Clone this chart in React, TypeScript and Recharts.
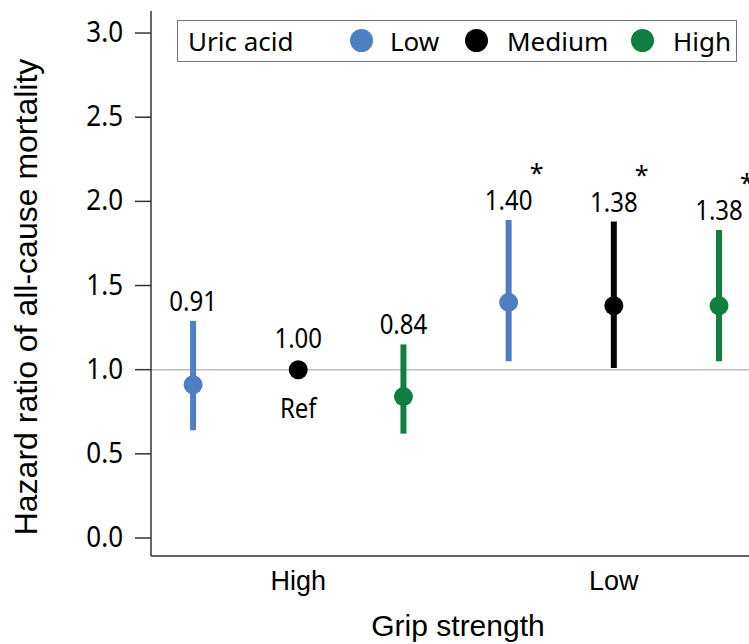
import { ComposedChart, ErrorBar, Legend, ReferenceLine, Scatter, XAxis, YAxis } from 'recharts';

const gripGroups = ['High', 'Low'];
const uricLevels = ['Low', 'Medium', 'High'];
const uricColors = ['#4e7fc3', '#000000', '#0e7f3e'];

// hazard ratios and 95% CI per uric acid level, one entry per grip group
const lowUricHr = [0.91, 1.4];
const lowUricLower = [0.64, 1.05];
const lowUricUpper = [1.29, 1.89];
const mediumUricHr = [1.0, 1.38];
const mediumUricLower = [1.0, 1.01];
const mediumUricUpper = [1.0, 1.88];
const highUricHr = [0.84, 1.38];
const highUricLower = [0.62, 1.05];
const highUricUpper = [1.15, 1.83];
const significant = [false, true];
const yTicks = [0, 0.5, 1, 1.5, 2, 2.5, 3];

const hrByLevel = [lowUricHr, mediumUricHr, highUricHr];
const lowerByLevel = [lowUricLower, mediumUricLower, highUricLower];
const upperByLevel = [lowUricUpper, mediumUricUpper, highUricUpper];

const FONT = '"Noto Sans", "Open Sans", sans-serif';
const ARIAL = '"Liberation Sans", Arial, sans-serif';

function pointsFor(level: number) {
  return gripGroups.map((_, g) => {
    const hr = hrByLevel[level][g];
    return {
      x: g * 3 + level + 1,
      y: hr,
      err: [hr - lowerByLevel[level][g], upperByLevel[level][g] - hr],
    };
  });
}

function labelsFor(level: number) {
  return gripGroups.map((_, g) => ({
    x: g * 3 + level + 1,
    y: upperByLevel[level][g],
    text: hrByLevel[level][g].toFixed(2),
    star: significant[g],
    isRef: level === 1 && g === 0,
  }));
}

const Dot = (color: string) => (props: any) => <circle cx={props.cx} cy={props.cy} r={9.5} fill={color} />;

// the source figure's labels are a little taller than wide
const TallText = ({ x, y, children, anchor = 'middle', size = 24, sy = 1.17 }: any) => (
  <text
    x={0}
    y={0}
    transform={`translate(${x},${y}) scale(1,${sy})`}
    textAnchor={anchor}
    fontFamily={FONT}
    fontSize={size}
    fill="#000"
  >
    {children}
  </text>
);

const ValueLabel = (props: any) => {
  const { cx, cy, payload } = props;
  const base = payload.isRef ? cy - 22 : cy - 10;
  return (
    <g>
      <TallText x={cx} y={base}>{payload.text}</TallText>
      {payload.star && (
        <text x={cx + 21} y={base - 28} textAnchor="start" fontFamily={FONT} fontSize={25} fill="#000">*</text>
      )}
      {payload.isRef && <TallText x={cx} y={cy + 48}>Ref</TallText>}
    </g>
  );
};

const YTick = (props: any) => {
  const { x, y, payload } = props;
  return (
    <TallText x={x} y={y + 9} anchor="end" size={26} sy={1.12}>
      {Number(payload.value).toFixed(1)}
    </TallText>
  );
};

const legendSlots = [
  { dot: 173, text: 213 },
  { dot: 288, text: 330 },
  { dot: 454, text: 496 },
];

const LegendBox = () => (
  <div
    style={{
      position: 'relative',
      boxSizing: 'border-box',
      width: 560,
      height: 42,
      border: '1px solid #777',
      background: '#fff',
      fontFamily: FONT,
      fontSize: 26,
      lineHeight: '40px',
      color: '#000',
      whiteSpace: 'nowrap',
    }}
  >
    <span style={{ position: 'absolute', left: 10, top: 0 }}>Uric acid</span>
    {uricLevels.map((name, i) => (
      <span key={name}>
        <span
          style={{
            position: 'absolute',
            left: legendSlots[i].dot - 1,
            top: 8,
            width: 23,
            height: 23,
            borderRadius: '50%',
            background: uricColors[i],
          }}
        />
        <span style={{ position: 'absolute', left: legendSlots[i].text - 1, top: 0 }}>{name}</span>
      </span>
    ))}
  </div>
);

export default function App() {
  return (
    <div style={{ position: 'absolute', left: 0, top: 0, width: 749, height: 644, overflow: 'hidden', background: '#fff' }}>
      <ComposedChart width={800} height={644} margin={{ top: 11, right: 0, bottom: 0, left: 0 }}>
        <XAxis
          xAxisId="frame"
          orientation="top"
          type="number"
          domain={[0.6, 6.77]}
          height={0}
          tick={false}
          tickLine={false}
          axisLine={{ stroke: '#333', strokeWidth: 1.5 }}
        />
        <XAxis
          dataKey="x"
          type="number"
          domain={[0.6, 6.77]}
          ticks={[2, 5]}
          tickFormatter={(v: number) => gripGroups[Math.round((v - 2) / 3)]}
          height={88}
          tickLine={false}
          tickSize={0}
          tickMargin={15}
          axisLine={{ stroke: '#333', strokeWidth: 1.5 }}
          tick={{ fill: '#000', fontSize: 27, fontFamily: ARIAL }}
          allowDataOverflow
          label={{
            content: (p: any) => (
              <text x={p.viewBox.x + 307} y={p.viewBox.y + 80} textAnchor="middle" fontSize={30} fontFamily={ARIAL} fill="#000">
                Grip strength
              </text>
            ),
          }}
        />
        <YAxis
          dataKey="y"
          type="number"
          domain={[-0.107, 3.131]}
          ticks={yTicks}
          width={151}
          tickSize={16}
          tickMargin={12}
          allowDataOverflow
          axisLine={{ stroke: '#333', strokeWidth: 1.5 }}
          tickLine={{ stroke: '#333', strokeWidth: 1.5 }}
          tick={<YTick />}
          label={{
            content: () => (
              <text x={37} y={297} transform="rotate(-90, 37, 297)" textAnchor="middle" fontSize={32} fontFamily={ARIAL} fill="#000">
                Hazard ratio of all-cause mortality
              </text>
            ),
          }}
        />
        <ReferenceLine y={1} stroke="#bdbdbd" strokeWidth={1.5} />
        {uricLevels.map((name, i) => (
          <Scatter key={name} name={name} data={pointsFor(i)} shape={Dot(uricColors[i])} isAnimationActive={false}>
            <ErrorBar dataKey="err" direction="y" width={0} strokeWidth={6} stroke={uricColors[i]} isAnimationActive={false} />
          </Scatter>
        ))}
        {uricLevels.map((name, i) => (
          <Scatter key={'lbl-' + name} data={labelsFor(i)} shape={ValueLabel} isAnimationActive={false} legendType="none" />
        ))}
        <Legend
          layout="horizontal"
          verticalAlign="middle"
          align="center"
          wrapperStyle={{ top: 20, left: 177, width: 560 }}
          content={() => <LegendBox />}
        />
      </ComposedChart>
    </div>
  );
}
